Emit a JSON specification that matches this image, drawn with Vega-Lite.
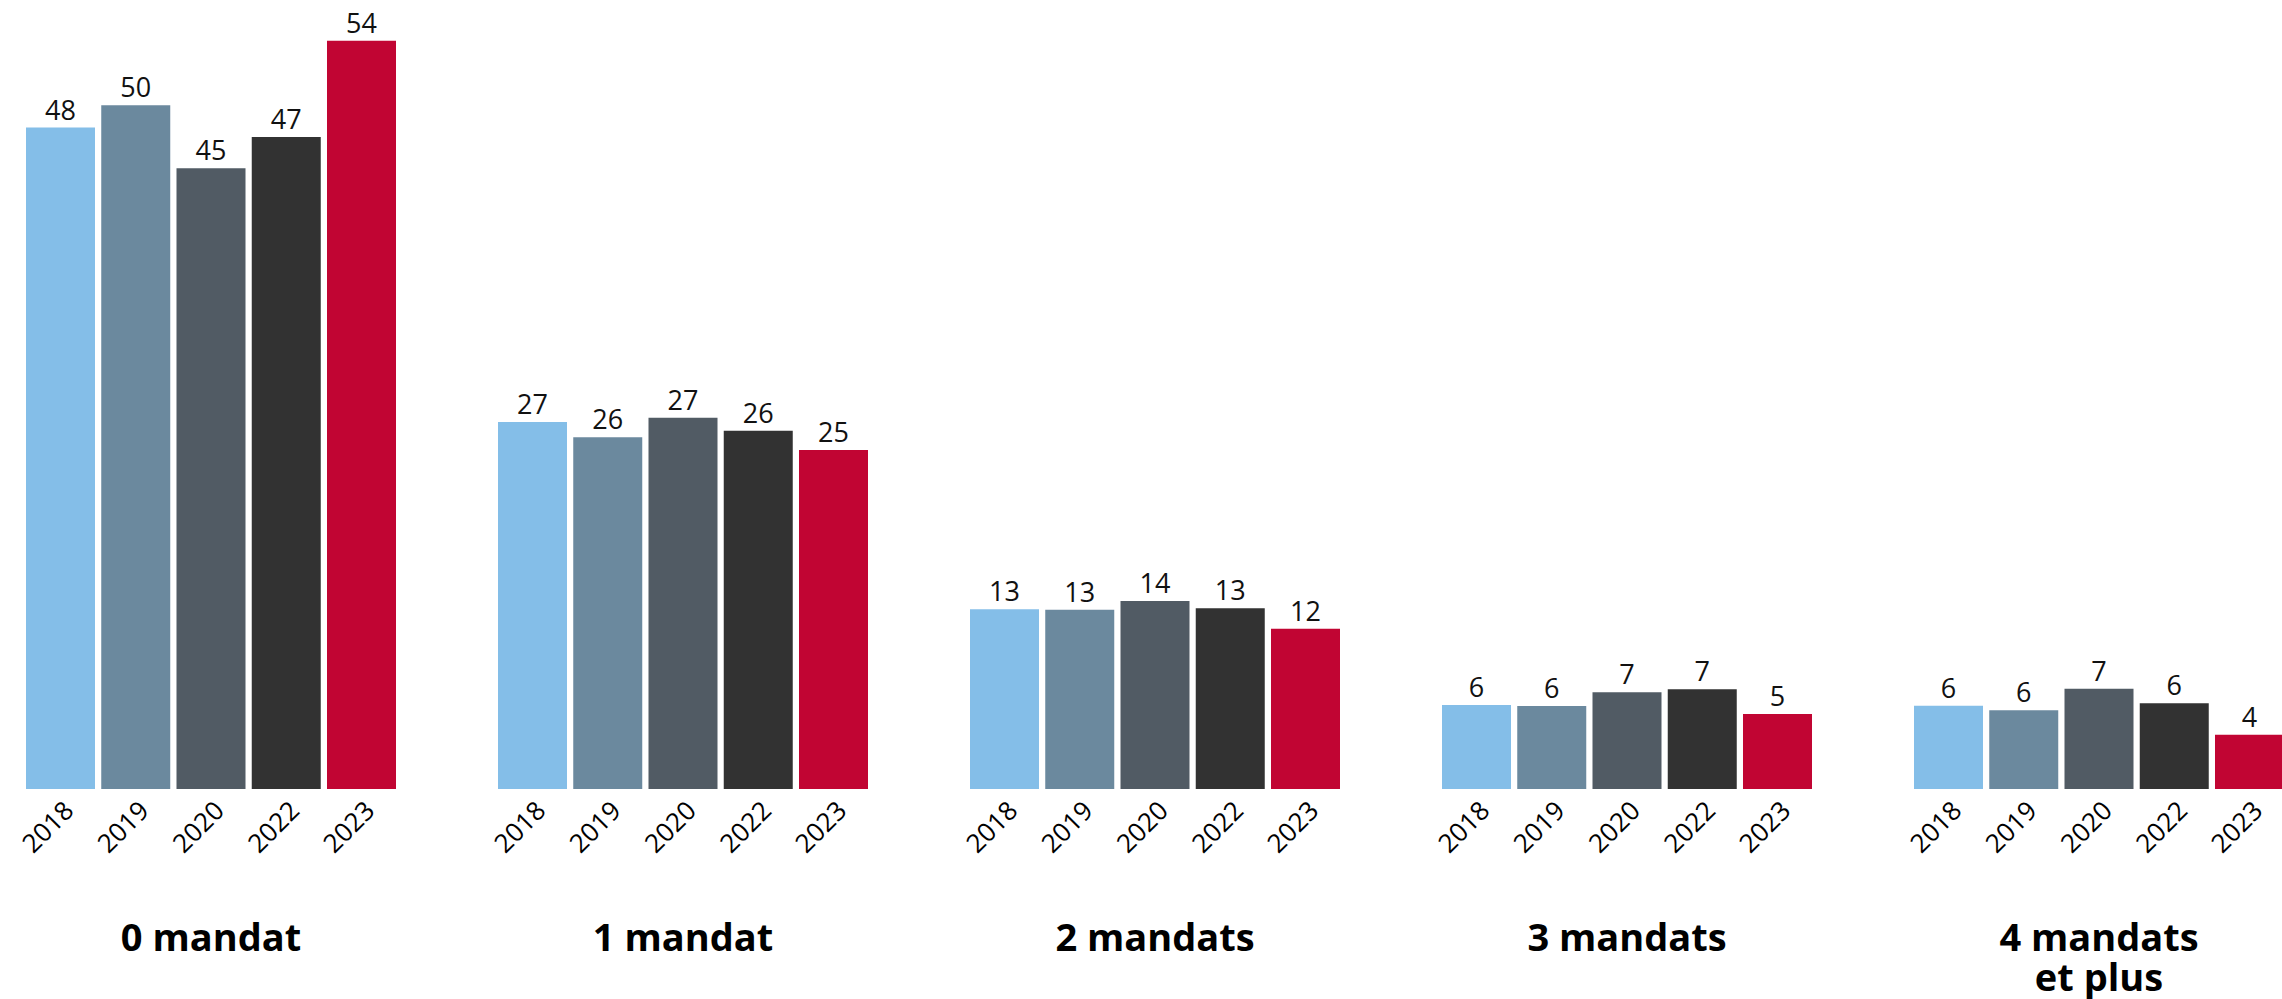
{
  "$schema": "https://vega.github.io/schema/vega-lite/v6.json",
  "padding": {"left": 17, "top": 4, "right": 0, "bottom": 0},
  "background": "white",
  "data": {"values": [
    {"groupe": "0 mandat", "annee": "2018", "valeur": 48.03},
    {"groupe": "0 mandat", "annee": "2019", "valeur": 49.65},
    {"groupe": "0 mandat", "annee": "2020", "valeur": 45.08},
    {"groupe": "0 mandat", "annee": "2022", "valeur": 47.35},
    {"groupe": "0 mandat", "annee": "2023", "valeur": 54.34},
    {"groupe": "1 mandat", "annee": "2018", "valeur": 26.65},
    {"groupe": "1 mandat", "annee": "2019", "valeur": 25.55},
    {"groupe": "1 mandat", "annee": "2020", "valeur": 26.96},
    {"groupe": "1 mandat", "annee": "2022", "valeur": 26.02},
    {"groupe": "1 mandat", "annee": "2023", "valeur": 24.62},
    {"groupe": "2 mandats", "annee": "2018", "valeur": 13.05},
    {"groupe": "2 mandats", "annee": "2019", "valeur": 13.02},
    {"groupe": "2 mandats", "annee": "2020", "valeur": 13.65},
    {"groupe": "2 mandats", "annee": "2022", "valeur": 13.12},
    {"groupe": "2 mandats", "annee": "2023", "valeur": 11.64},
    {"groupe": "3 mandats", "annee": "2018", "valeur": 6.10},
    {"groupe": "3 mandats", "annee": "2019", "valeur": 6.03},
    {"groupe": "3 mandats", "annee": "2020", "valeur": 7.02},
    {"groupe": "3 mandats", "annee": "2022", "valeur": 7.24},
    {"groupe": "3 mandats", "annee": "2023", "valeur": 5.45},
    {"groupe": "4 mandats et plus", "annee": "2018", "valeur": 6.05},
    {"groupe": "4 mandats et plus", "annee": "2019", "valeur": 5.72},
    {"groupe": "4 mandats et plus", "annee": "2020", "valeur": 7.28},
    {"groupe": "4 mandats et plus", "annee": "2022", "valeur": 6.22},
    {"groupe": "4 mandats et plus", "annee": "2023", "valeur": 3.94}
  ]},
  "facet": {
    "column": {
      "field": "groupe",
      "type": "nominal",
      "sort": ["0 mandat", "1 mandat", "2 mandats", "3 mandats", "4 mandats et plus"],
      "title": null,
      "header": {
        "labelOrient": "bottom",
        "labelExpr": "datum.value == '4 mandats et plus' ? ['4 mandats', 'et plus'] : datum.value",
        "labelFont": "Open Sans",
        "labelFontSize": 38,
        "labelFontWeight": "bold",
        "labelColor": "#000000",
        "labelLineHeight": 40,
        "labelBaseline": "top",
        "labelPadding": 64
      }
    }
  },
  "spacing": 101,
  "spec": {
    "width": 370,
    "height": 785,
    "encoding": {
      "x": {
        "field": "annee",
        "type": "nominal",
        "title": null,
        "scale": {"paddingInner": 0.083, "paddingOuter": 0},
        "axis": {
          "labelAngle": -45,
          "labelFont": "Open Sans",
          "labelFontSize": 26,
          "labelColor": "#000000",
          "ticks": false,
          "domain": false,
          "labelPadding": 8
        }
      },
      "y": {
        "field": "valeur",
        "type": "quantitative",
        "scale": {"domain": [0, 57]},
        "axis": null
      }
    },
    "layer": [
      {
        "mark": {"type": "bar"},
        "encoding": {
          "color": {
            "field": "annee",
            "type": "nominal",
            "scale": {
              "domain": ["2018", "2019", "2020", "2022", "2023"],
              "range": ["#84BEE8", "#6B899E", "#515B64", "#323232", "#C10533"]
            },
            "legend": null
          }
        }
      },
      {
        "mark": {"type": "text", "baseline": "alphabetic", "dy": -8, "font": "Open Sans", "fontSize": 27, "color": "#111111"},
        "encoding": {
          "text": {"field": "valeur", "type": "quantitative", "format": ".0f"}
        }
      }
    ]
  },
  "config": {
    "view": {"stroke": null},
    "axis": {"grid": false}
  }
}
